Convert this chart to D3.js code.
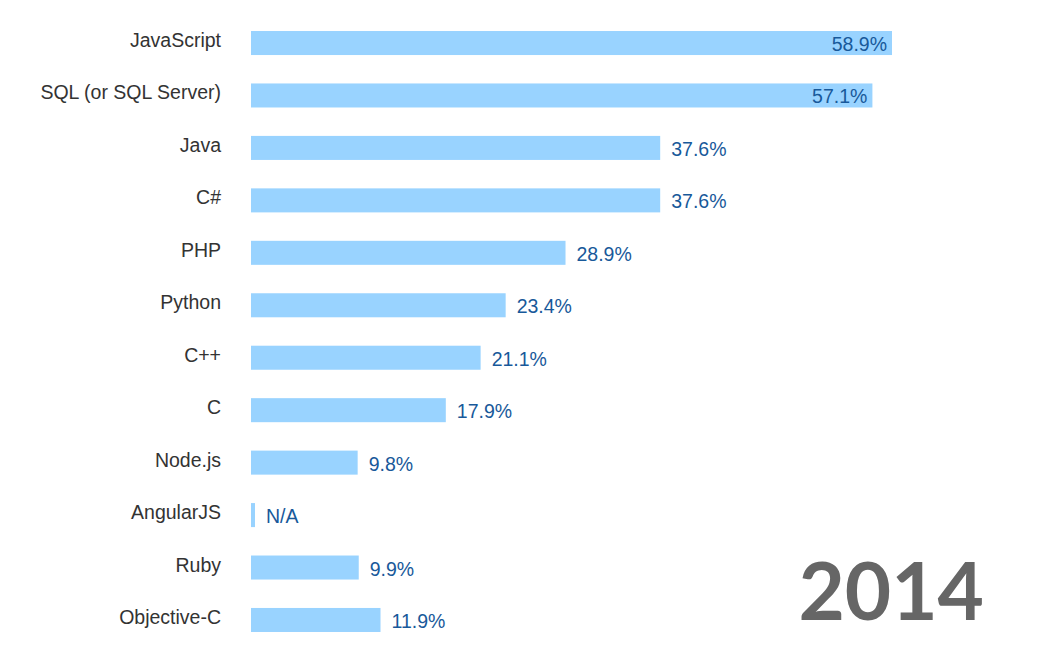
<!DOCTYPE html>
<html><head><meta charset="utf-8">
<script src="https://cdn.jsdelivr.net/npm/d3@7"></script>
<style>body{margin:0;background:#fff}</style>
</head><body>
<svg id="chart" width="1051" height="672"></svg>
<script>
const categories = ["JavaScript","SQL (or SQL Server)","Java","C#","PHP","Python","C++","C","Node.js","AngularJS","Ruby","Objective-C"];
const values = [58.9,57.1,37.6,37.6,28.9,23.4,21.1,17.9,9.8,null,9.9,11.9];
const valueLabels = ["58.9%","57.1%","37.6%","37.6%","28.9%","23.4%","21.1%","17.9%","9.8%","N/A","9.9%","11.9%"];
const yearLabel = "2014";

const svg = d3.select("#chart");
const x0 = 251;
const x = d3.scaleLinear().domain([0, 58.9]).range([x0, 892]);
const y = d3.scaleBand().domain(categories).range([16.8, 16.8 + 52.45*12]).paddingInner(0.542).paddingOuter(0.271);

const g = svg.append("g");
const rows = g.selectAll("g.row").data(categories).join("g").attr("class","row");

rows.append("rect")
  .attr("x", x0)
  .attr("y", d => y(d))
  .attr("height", y.bandwidth())
  .attr("width", (d,i) => values[i] == null ? 4 : x(values[i]) - x0)
  .attr("fill", "#99d3ff");

rows.append("text")
  .attr("x", 221)
  .attr("y", d => y(d) + y.bandwidth()/2 + 4)
  .attr("text-anchor", "end")
  .attr("font-family", "Liberation Sans, Arial, sans-serif")
  .attr("font-size", 19.5)
  .attr("fill", "#333")
  .text(d => d);

rows.append("text")
  .attr("x", (d,i) => {
    const v = values[i];
    if (v == null) return x0 + 15;
    return v > 50 ? x(v) - 5 : x(v) + 11;
  })
  .attr("y", d => y(d) + y.bandwidth()/2 + 8)
  .attr("text-anchor", (d,i) => values[i] != null && values[i] > 50 ? "end" : "start")
  .attr("font-family", "Liberation Sans, Arial, sans-serif")
  .attr("font-size", 19.5)
  .attr("fill", "#18599a")
  .text((d,i) => valueLabels[i]);

svg.append("text")
  .attr("x", 984)
  .attr("y", 620)
  .attr("text-anchor", "end")
  .attr("font-family", "Lato, sans-serif")
  .attr("font-weight", "bold")
  .attr("font-size", 80)
  .attr("fill", "#666")
  .text(yearLabel);
</script>
</body></html>
